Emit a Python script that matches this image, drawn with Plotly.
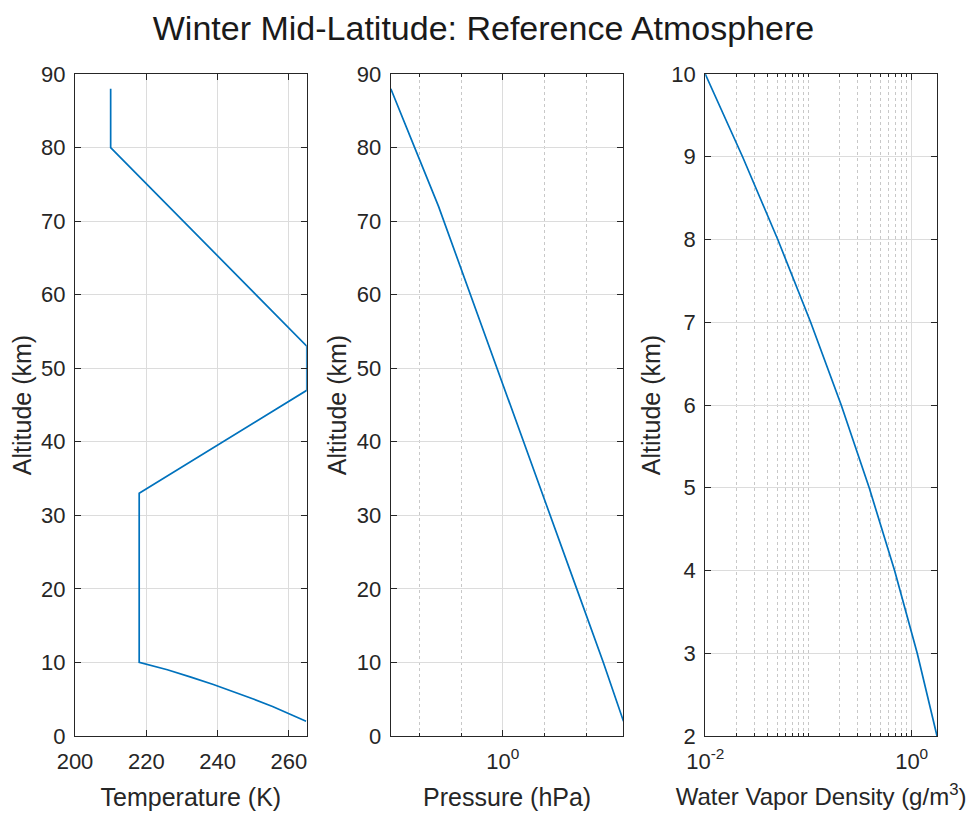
import plotly.graph_objects as go

# Temperature profile (km, K)
alt_temp = [2, 3, 4, 5, 6, 7, 8, 9, 10, 33, 47, 53, 80, 88]
temperature = [264.8, 260.3, 255.4, 250.2, 244.7, 238.8, 232.5, 225.9, 218.0,
               218.0, 265.0, 265.0, 210.0, 210.0]

# Pressure profile (km, hPa)
alt_pres = [2, 4, 6, 8, 10, 20, 30, 40, 50, 60, 72, 80, 88]
pressure = [789.6, 599.0, 447.0, 333.7, 259.0, 59.55, 13.69, 3.148, 0.7237,
            0.1664, 0.02852, 0.007618, 0.002035]

# Water vapour density profile (km, g/m^3)
alt_wv = [2, 3, 4, 5, 6, 7, 8, 9, 10]
wv_density = [1.760, 1.132, 0.683, 0.3875, 0.2074, 0.1049, 0.05035, 0.02295, 0.00997]

LINE_COLOR = '#0072BD'
AX_COLOR = '#262626'
GRID_COLOR = '#dcdcdc'
FONT = 'Liberation Sans, Arial, Helvetica, sans-serif'

# the page body adds an 8px offset, so the figure is drawn 8px smaller
OFF = 8
W, H = 977 - OFF, 819 - OFF
ML, MR, MT, MB = 75.0 - OFF, 977 - 936.7, 74.3 - OFF, 819 - 736.0
PW = W - ML - MR
panels_px = [(75.0, 306.7), (390.7, 623.3), (705.0, 936.7)]


def xdom(a, b):
    a, b = a - OFF, b - OFF
    return [max(0, (a - ML) / PW), min(1, (b - ML) / PW)]


fig = go.Figure()

fig.add_trace(go.Scatter(x=temperature, y=alt_temp, mode='lines',
                         line=dict(color=LINE_COLOR, width=1.7),
                         xaxis='x', yaxis='y', showlegend=False))
fig.add_trace(go.Scatter(x=pressure, y=alt_pres, mode='lines',
                         line=dict(color=LINE_COLOR, width=1.7),
                         xaxis='x2', yaxis='y2', showlegend=False))
fig.add_trace(go.Scatter(x=wv_density, y=alt_wv, mode='lines',
                         line=dict(color=LINE_COLOR, width=1.7),
                         xaxis='x3', yaxis='y3', showlegend=False))

common = dict(
    showline=True, linecolor=AX_COLOR, linewidth=1.2, mirror='allticks',
    ticks='inside', ticklen=6, tickcolor=AX_COLOR, tickwidth=1.2,
    showgrid=True, gridcolor=GRID_COLOR, gridwidth=1, zeroline=False,
    automargin=False,
    tickfont=dict(size=22, color=AX_COLOR, family=FONT),
)
xcommon = dict(common, ticklabelstandoff=5)
ycommon = dict(common, ticklabelstandoff=4)

label_font = dict(size=25, color=AX_COLOR, family=FONT)


def xtitle(text, size=25):
    return dict(text=text, standoff=15, font=dict(label_font, size=size))


def ytitle():
    return dict(text='Altitude (km)', standoff=3, font=label_font)


minor_log = dict(showgrid=True, gridcolor='#c8c8c8', griddash='dot',
                 ticks='inside', ticklen=3, tickcolor=AX_COLOR)

fig.update_layout(
    width=W, height=H,
    margin=dict(l=ML, r=MR, t=MT, b=MB),
    paper_bgcolor='white', plot_bgcolor='white',
    font=dict(family=FONT, color=AX_COLOR),
    title=dict(text='Winter Mid-Latitude: Reference Atmosphere',
               xref='container', x=(483.5 - OFF) / W, xanchor='center',
               yref='container', y=1 - (28 - OFF) / H, yanchor='middle',
               font=dict(size=34, color='#1a1a1a', family=FONT)),
    xaxis=dict(domain=xdom(*panels_px[0]), anchor='y', range=[200, 265],
               tickvals=[200, 220, 240, 260],
               title=xtitle('Temperature (K)'), **xcommon),
    yaxis=dict(domain=[0, 1], anchor='x', range=[0, 90], dtick=10,
               title=ytitle(), **ycommon),
    xaxis2=dict(domain=xdom(*panels_px[1]), anchor='y2', type='log',
                range=[-2.6914, 2.8974], tickvals=[1], ticktext=['10<sup>0</sup>'],
                minor=dict(minor_log, tickvals=[0.01, 0.1, 10, 100]),
                title=xtitle('Pressure (hPa)'), **xcommon),
    yaxis2=dict(domain=[0, 1], anchor='x2', range=[0, 90], dtick=10,
                title=ytitle(), **ycommon),
    xaxis3=dict(domain=xdom(*panels_px[2]), anchor='y3', type='log',
                range=[-2.0013, 0.2455], tickvals=[0.01, 1],
                ticktext=['10<sup>-2</sup>', '10<sup>0</sup>'],
                minor=dict(minor_log,
                           tickvals=[k * 0.01 for k in range(2, 10)] + [0.1] +
                           [k * 0.1 for k in range(2, 10)]),
                title=xtitle('Water Vapor Density (g/m<sup>3</sup>)', size=24),
                **xcommon),
    yaxis3=dict(domain=[0, 1], anchor='x3', range=[2, 10], dtick=1,
                title=ytitle(), **ycommon),
)

fig.write_html("out.html")
